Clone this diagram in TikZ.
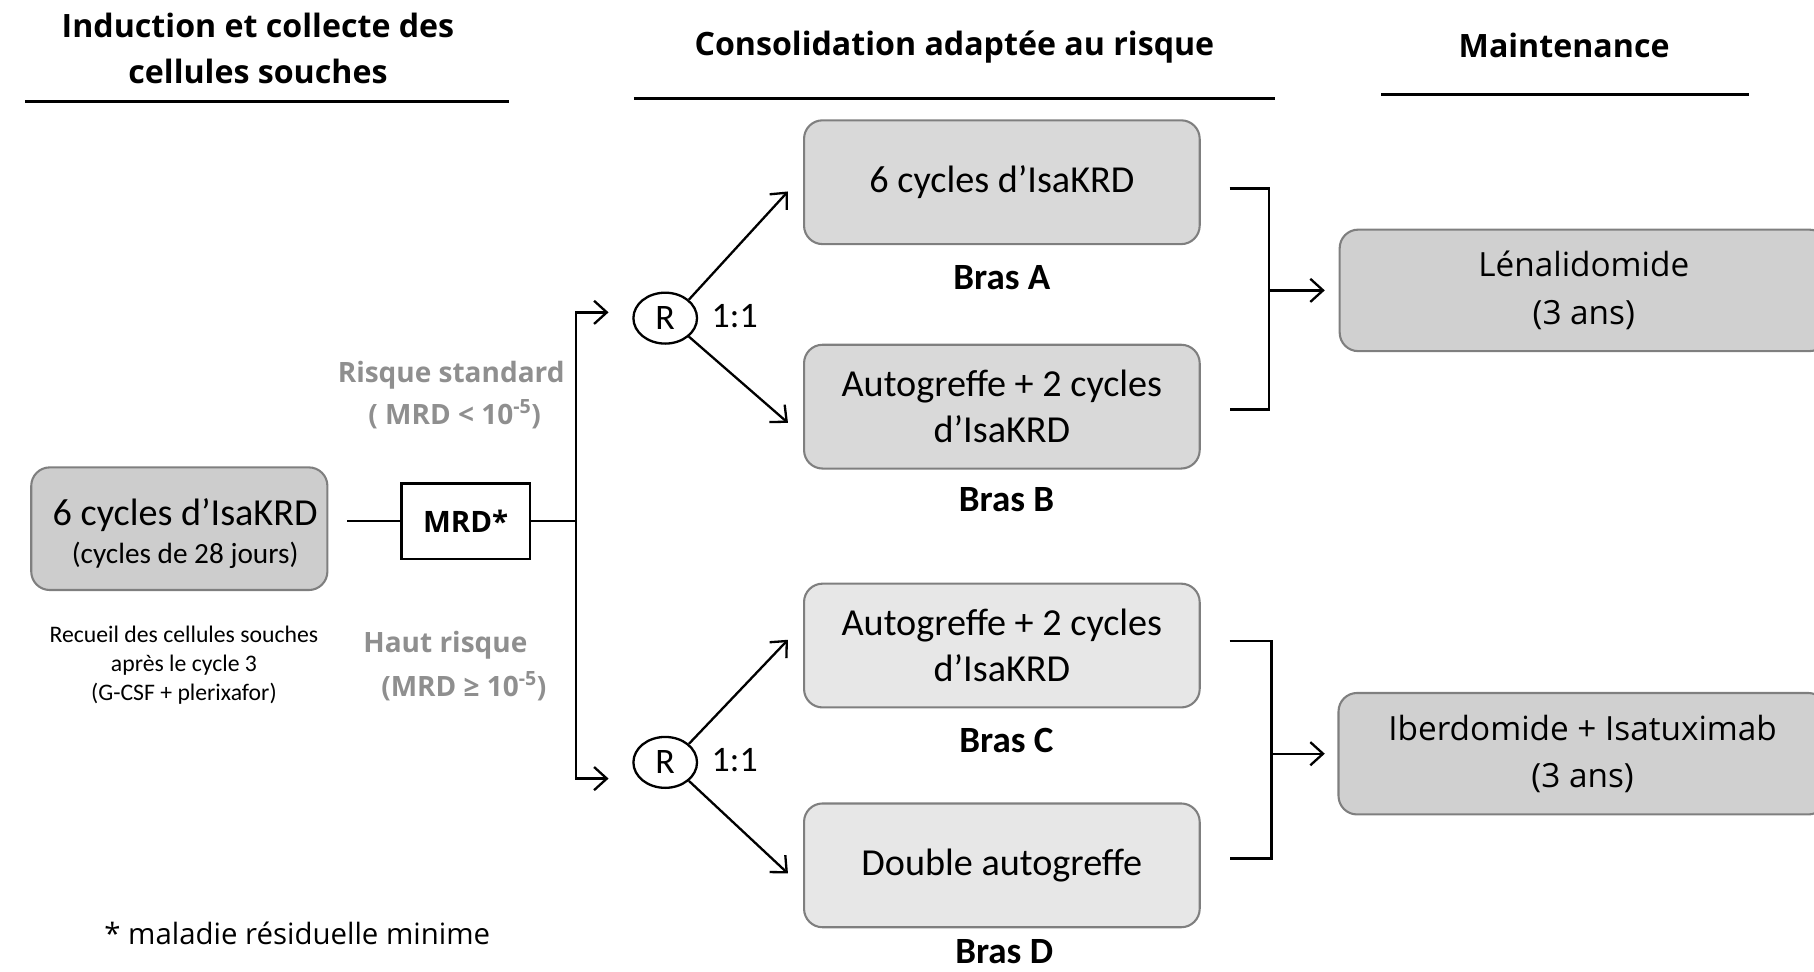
\documentclass[tikz,border=0pt]{standalone}
\usepackage{fontspec}
\setmainfont{Carlito}
\newfontfamily\osans{Open Sans}
\usetikzlibrary{arrows.meta,shapes.geometric}
\definecolor{boxborder}{HTML}{7F7F7F}
\definecolor{fillL}{HTML}{CDCDCD}
\definecolor{fillAB}{HTML}{D9D9D9}
\definecolor{fillCD}{HTML}{E7E7E7}
\definecolor{fillM}{HTML}{D0D0D0}
\definecolor{risk}{HTML}{8F8F8F}
\begin{document}
\begin{tikzpicture}[x=1pt,y=-1pt,
  box/.style={draw=boxborder, line width=1.8pt, rounded corners=16pt, align=center, inner sep=0pt,
    font=\fontsize{33}{40}\selectfont},
  mbox/.style={box, fill=fillM, minimum width=422pt, minimum height=105pt,
    font=\osans\fontsize{28.8}{41}\selectfont},
  armbox/.style={box, minimum width=342pt, minimum height=107pt},
  head/.style={align=center, inner sep=0pt, font=\osans\bfseries\fontsize{27.8}{40}\selectfont},
  hline/.style={line width=2.6pt},
  bras/.style={inner sep=0pt, font=\bfseries\fontsize{32}{36}\selectfont},
  risklbl/.style={inner sep=0pt, text=risk, font=\osans\bfseries\fontsize{24.2}{35}\selectfont},
  conn/.style={line width=2pt},
  arr/.style={line width=2pt, -{Straight Barb[length=11pt,width=20pt,line width=2pt]}},
  rnode/.style={draw, ellipse, line width=2pt, minimum width=55pt, minimum height=44pt, inner sep=0pt,
    font=\fontsize{31}{36}\selectfont},
  ratio/.style={inner sep=0pt, anchor=west, font=\fontsize{31}{36}\selectfont},
  small/.style={inner sep=0pt, align=center, font=\fontsize{20.5}{25}\selectfont},
  note/.style={inner sep=0pt, anchor=west, font=\osans\fontsize{25.4}{30}\selectfont}
]
\useasboundingbox (0,0) rectangle (1568,840);

% headers
\node[head] (h1) at (223,42) {Induction et collecte des\\cellules souches};
\node[head] (h2) at (825,41) {Consolidation adaptée au risque};
\node[head] (h3) at (1352,39) {Maintenance};
\coordinate (h1l) at (22,88);  \coordinate (h1r) at (440,88);
\coordinate (h2l) at (548,85); \coordinate (h2r) at (1102,85);
\coordinate (h3l) at (1194,82);\coordinate (h3r) at (1512,82);
\draw[hline] (h1l) -- (h1r);
\draw[hline] (h2l) -- (h2r);
\draw[hline] (h3l) -- (h3r);

% induction box
\node[box, fill=fillL, minimum width=256pt, minimum height=106pt] (ind) at (155,457) {};
\node[inner sep=0pt, align=center, font=\fontsize{33}{40}\selectfont] (indt) at (160,461)
  {6 cycles d’IsaKRD\\[-7pt]{\fontsize{25.3}{30}\selectfont (cycles de 28 jours)}};
\node[small] (recueil) at (159,575) {Recueil des cellules souches\\après le cycle 3\\(G-CSF + plerixafor)};

% MRD
\node[draw, line width=2pt, minimum width=111pt, minimum height=65pt, inner sep=0pt,
  font=\osans\bfseries\fontsize{25.5}{30}\selectfont] (mrd) at (402.5,450.5) {MRD*};
\coordinate (lstart) at (300,450.5);
\coordinate (sp) at (498,450.5);
\coordinate (topend) at (526,270);
\coordinate (botend) at (526,673);
\draw[conn] (lstart) -- (mrd.west);
\draw[conn] (mrd.east) -- (sp);
\draw[arr] (sp) |- (topend);
\draw[arr] (sp) |- (botend);

\node[risklbl] (std1) at (390,324) {Risque standard};
\node[risklbl] (std2) at (393,358) {( MRD < 10\textsuperscript{-5})};
\node[risklbl] (haut1) at (385,558) {Haut risque};
\node[risklbl] (haut2) at (401,593) {(MRD ≥ 10\textsuperscript{-5})};

% randomisation
\node[rnode] (R1) at (575,275) {R};
\node[rnode] (R2) at (575,659) {R};
\node[ratio] (r1) at (615,273) {1:1};
\node[ratio] (r2) at (615,657) {1:1};

% arms
\node[armbox, fill=fillAB] (A) at (866,157.5) {6 cycles d’IsaKRD};
\node[armbox, fill=fillAB] (B) at (866,351.5) {Autogreffe + 2 cycles\\d’IsaKRD};
\node[armbox, fill=fillCD] (C) at (866,558) {Autogreffe + 2 cycles\\d’IsaKRD};
\node[armbox, fill=fillCD] (D) at (866,748) {Double autogreffe};
\node[bras] (bA) at (866,240) {Bras A};
\node[bras] (bB) at (870,432) {Bras B};
\node[bras] (bC) at (870,640) {Bras C};
\node[bras] (bD) at (868,823) {Bras D};

\draw[arr] (R1.38) -- ([xshift=-13pt,yshift=-8pt]A.west);
\draw[arr] (R1.-38) -- ([xshift=-13pt,yshift=-14pt]B.west);
\draw[arr] (R2.38) -- ([xshift=-13pt,yshift=5pt]C.west);
\draw[arr] (R2.-38) -- ([xshift=-13pt,yshift=-7pt]D.west);

% maintenance
\node[mbox] (L) at (1369,251) {\raisebox{3pt}{Lénalidomide}\\\raisebox{3pt}{(3 ans)}};
\node[mbox] (I) at (1368,651.5) {\raisebox{3pt}{Iberdomide + Isatuximab}\\\raisebox{3pt}{(3 ans)}};

% brackets
\coordinate (j1) at (1097,251);
\coordinate (j2) at (1099,651.5);
\draw[conn] ([xshift=25pt,yshift=-5.5pt]A.east) -| (1097,354) -- ([xshift=25pt,yshift=-2.5pt]B.east);
\draw[arr] (j1) -- ([xshift=-12pt]L.west);
\draw[conn] ([xshift=25pt,yshift=4pt]C.east) -| (1099,742) -- ([xshift=25pt,yshift=6pt]D.east);
\draw[arr] (j2) -- ([xshift=-11pt]I.west);

% footnote
\node[note] (fn) at (90,807) {* maladie résiduelle minime};
\end{tikzpicture}
\end{document}
